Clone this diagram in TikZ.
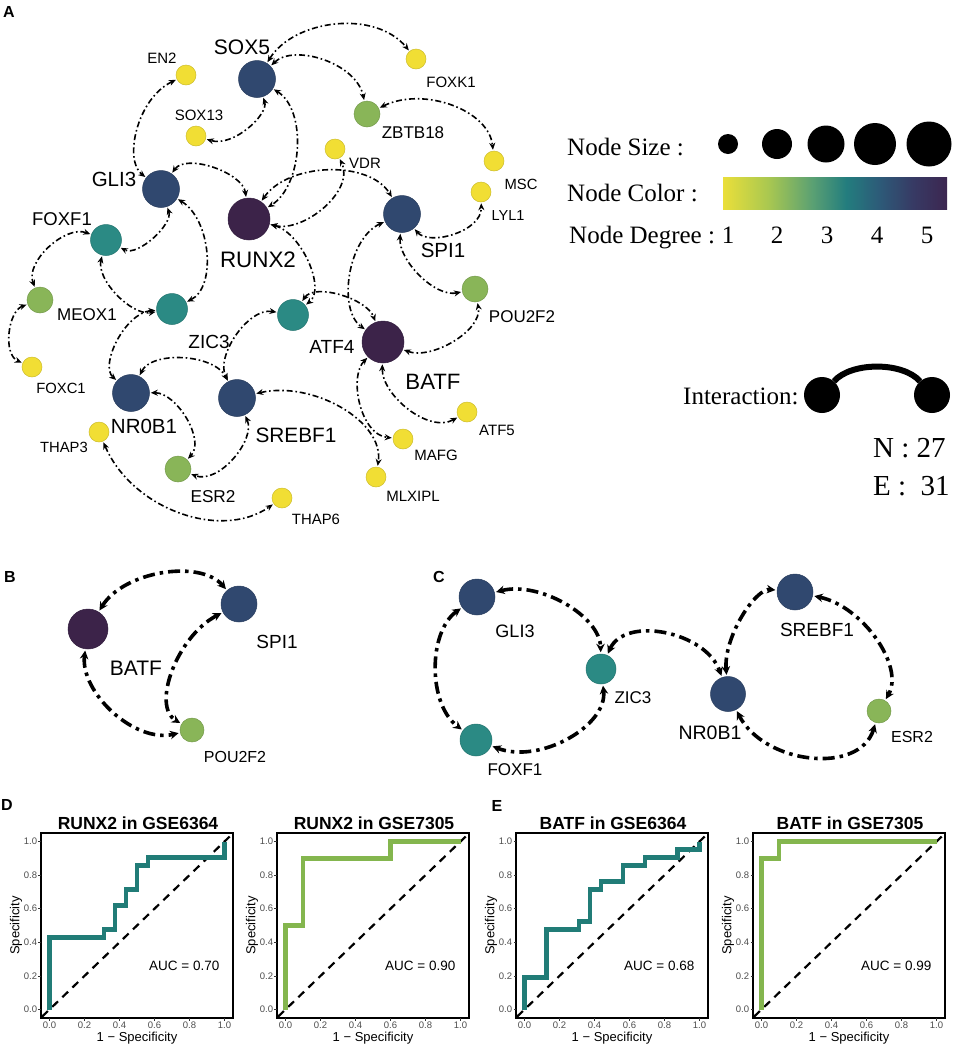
\documentclass[tikz,border=0pt]{standalone}
\usepackage{fontspec}
\setmainfont{Liberation Serif}
\newfontfamily\arial{Liberation Sans}
\usetikzlibrary{arrows.meta,calc}

\definecolor{cY}{RGB}{241,222,52}
\definecolor{cG}{RGB}{137,181,88}
\definecolor{cT}{RGB}{43,138,132}
\definecolor{cB}{RGB}{48,72,111}
\definecolor{cP}{RGB}{60,35,73}
\definecolor{rocT}{RGB}{33,124,119}
\definecolor{rocG}{RGB}{132,182,78}
\definecolor{tickgrey}{RGB}{77,77,77}
\definecolor{v0}{RGB}{234,223,58}
\definecolor{v1}{RGB}{170,200,80}
\definecolor{v2}{RGB}{90,160,115}
\definecolor{v3}{RGB}{35,125,126}
\definecolor{v4}{RGB}{45,90,120}
\definecolor{v5}{RGB}{55,58,100}
\definecolor{v6}{RGB}{60,38,80}
\pgfdeclarehorizontalshading{viridisbar}{100bp}{color(0bp)=(v0); color(25bp)=(v0); color(35bp)=(v1); color(45bp)=(v2); color(52.5bp)=(v3); color(60bp)=(v4); color(67.5bp)=(v5); color(75bp)=(v6); color(100bp)=(v6)}

\tikzset{
  nd/.style={circle,inner sep=0pt,minimum size=#1,line width=0.5pt},
  dY/.style={nd=20pt,fill=cY,draw=cY!85!black},
  dG/.style={nd=26pt,fill=cG,draw=cG!85!black},
  dT/.style={nd=31pt,fill=cT,draw=cT!85!black},
  dB/.style={nd=37pt,fill=cB,draw=cB!85!black},
  dP/.style={nd=42pt,fill=cP,draw=cP!85!black},
  lab/.style={font=\arial\fontsize{#1}{#1}\selectfont,inner sep=0pt},
  leg/.style={font=\fontsize{#1}{#1}\selectfont,inner sep=0pt},
  panlet/.style={font=\arial\bfseries\fontsize{16}{16}\selectfont,inner sep=0pt},
  blackdot/.style={circle,fill=black,inner sep=0pt,minimum size=#1},
  eA/.style={line width=1.6pt, dash pattern=on 6pt off 2.8pt on 1.6pt off 2.8pt,
     >={Stealth[length=7pt,width=6pt]}, <->, shorten <=1pt, shorten >=1pt},
  eB/.style={line width=3.6pt, dash pattern=on 12pt off 5pt on 3.5pt off 5pt,
     >={Stealth[length=8.5pt,width=8.5pt]}, <->, shorten <=1.5pt, shorten >=1.5pt},
  eI/.style={line width=6pt},
  roc/.style={line width=4.5pt, line join=miter, line cap=butt},
  diag/.style={line width=2.2pt, dash pattern=on 8pt off 6pt},
  tickm/.style={line width=0.8pt, draw=black!80},
  ticklab/.style={font=\arial\fontsize{9.5}{9.5}\selectfont, text=tickgrey, inner sep=1pt},
  roctitle/.style={font=\arial\bfseries\fontsize{17.5}{17.5}\selectfont,inner sep=0pt},
  axlab/.style={font=\arial\fontsize{13}{13}\selectfont,inner sep=0pt},
  auclab/.style={font=\arial\fontsize{13.5}{13.5}\selectfont,inner sep=0pt}
}

% arc from node #2 to node #3 passing near point #4, drawn with style #1
\newcommand{\arcX}[4]{%
 \draw[#1] let \p1=(#2), \p2=(#3), \p3=(#4),
   \n1={veclen(\x3-0.5*\x1-0.5*\x2,\y3-0.5*\y1-0.5*\y2)/(0.5*veclen(\x2-\x1,\y2-\y1))},
   \n2={(1-\n1*\n1)/3},
   \p5=({\x1+\n2*(\x2-\x1)+1.3333*(\x3-0.5*\x1-0.5*\x2)},{\y1+\n2*(\y2-\y1)+1.3333*(\y3-0.5*\y1-0.5*\y2)}),
   \p6=({\x2-\n2*(\x2-\x1)+1.3333*(\x3-0.5*\x1-0.5*\x2)},{\y2-\n2*(\y2-\y1)+1.3333*(\y3-0.5*\y1-0.5*\y2)})
 in (#2) .. controls (\p5) and (\p6) .. (#3);}
\newcommand{\arcA}[3]{\arcX{eA}{#1}{#2}{#3}}
\newcommand{\arcB}[3]{\arcX{eB}{#1}{#2}{#3}}

\newcommand{\rocpanel}[6]{%
 \begin{scope}[shift={(#1,1018)}]
  \node[roctitle] (#6t) at (97,-195) {#2};
  \node[axlab] (#6xl) at (96,20) {1 − Specificity};
  \node[axlab,rotate=90] (#6yl) at (-25,-92.5) {Specificity};
  \begin{scope}[shift={(8.5,-8.5)},x=175pt,y=168pt]
   \begin{scope}
    \clip (-0.0486,-0.0506) rectangle (1.0486,1.0506);
    \draw[diag] (-0.1,-0.1) -- (1.1,1.1);
   \end{scope}
   \draw[roc,draw=#3] #4;
   \draw[line width=1.2pt] (-0.0486,-0.0506) rectangle (1.0486,1.0506);
   \foreach \t [count=\k] in {0.0,0.2,0.4,0.6,0.8,1.0}{
     \draw[tickm] (\t,-0.0506) -- ++(0,-2.5pt) node[ticklab,anchor=north] (#6x\k) {\t};
     \draw[tickm] (-0.0486,\t) -- ++(-2.5pt,0) node[ticklab,anchor=east] (#6y\k) {\t};
   }
   \node[auclab] (#6auc) at (0.77,0.26) {#5};
  \end{scope}
 \end{scope}}

\begin{document}
\begin{tikzpicture}[x=1pt,y=-1pt]
\useasboundingbox (0,0) rectangle (957,1050);

% panel letters
\node[panlet] (letA) at (9,12) {A};
\node[panlet] (letB) at (10,577) {B};
\node[panlet] (letC) at (439,577) {C};
\node[panlet] (letD) at (7,805) {D};
\node[panlet] (letE) at (497,806) {E};

% ===== Panel A nodes =====
\node[dB] (SOX5) at (257,79) {};
\node[dY] (EN2) at (186,75) {};
\node[dY] (SOX13) at (196,136) {};
\node[dY] (FOXK1) at (416,59) {};
\node[dG] (ZBTB18) at (367,114) {};
\node[dY] (VDR) at (335,149) {};
\node[dB] (GLI3) at (161,189) {};
\node[dP] (RUNX2) at (249,219) {};
\node[dB] (SPI1) at (402,214) {};
\node[dY] (MSC) at (494,161) {};
\node[dY] (LYL1) at (481,192) {};
\node[dT] (FOXF1) at (106,240) {};
\node[dG] (MEOX1) at (40,300) {};
\node[dT] (ZIC3) at (172,309) {};
\node[dT] (ATF4) at (293,315) {};
\node[dP] (BATF) at (383,342) {};
\node[dG] (POU2F2) at (475,289) {};
\node[dY] (FOXC1) at (32,367) {};
\node[dB] (NR0B1) at (131,393) {};
\node[dB] (SREBF1) at (237,398) {};
\node[dY] (THAP3) at (99,432) {};
\node[dG] (ESR2) at (178,469) {};
\node[dY] (THAP6) at (282,498) {};
\node[dY] (MLXIPL) at (376,477) {};
\node[dY] (MAFG) at (403,439) {};
\node[dY] (ATF5) at (467,412) {};

% labels A
\node[lab=21] (tSOX5) at (242,47) {SOX5};
\node[lab=15] (tEN2) at (162,58) {EN2};
\node[lab=15] (tSOX13) at (199,115) {SOX13};
\node[lab=15] (tFOXK1) at (451,82) {FOXK1};
\node[lab=17] (tZBTB18) at (413,133) {ZBTB18};
\node[lab=15] (tVDR) at (365,163) {VDR};
\node[lab=20.5] (tGLI3) at (114,179) {GLI3};
\node[lab=22.4] (tRUNX2) at (258,260) {RUNX2};
\node[lab=20.5] (tSPI1) at (443,250) {SPI1};
\node[lab=14.8] (tMSC) at (521,184) {MSC};
\node[lab=14.5] (tLYL1) at (508,216) {LYL1};
\node[lab=18.5] (tFOXF1) at (62,219) {FOXF1};
\node[lab=17] (tMEOX1) at (87,315) {MEOX1};
\node[lab=19] (tZIC3) at (209,342) {ZIC3};
\node[lab=19] (tATF4) at (332,347) {ATF4};
\node[lab=22.2] (tBATF) at (433,382) {BATF};
\node[lab=17] (tPOU2F2) at (522,317) {POU2F2};
\node[lab=14.8] (tFOXC1) at (61,388) {FOXC1};
\node[lab=20.5] (tNR0B1) at (144,426) {NR0B1};
\node[lab=20.8] (tSREBF1) at (296,435) {SREBF1};
\node[lab=14.8] (tTHAP3) at (64,447) {THAP3};
\node[lab=17.2] (tESR2) at (213,497) {ESR2};
\node[lab=14.9] (tTHAP6) at (316,519) {THAP6};
\node[lab=15] (tMLXIPL) at (413,496) {MLXIPL};
\node[lab=15] (tMAFG) at (436,455) {MAFG};
\node[lab=15] (tATF5) at (497,430) {ATF5};

% edges A
\arcA{SOX5}{FOXK1}{335,28}
\arcA{SOX5}{ZBTB18}{322,64}
\arcA{ZBTB18}{MSC}{450,108}
\arcA{SOX5}{SOX13}{245,125}
\arcA{SOX5}{RUNX2}{292,148}
\arcA{EN2}{GLI3}{141,130}
\arcA{GLI3}{RUNX2}{212,173}
\arcA{RUNX2}{VDR}{320,205}
\arcA{RUNX2}{SPI1}{328,175}
\arcA{SPI1}{LYL1}{452,230}
\arcA{SPI1}{POU2F2}{422,272}
\arcA{SPI1}{BATF}{355,275}
\arcA{RUNX2}{ATF4}{303,262}
\arcA{ATF4}{BATF}{340,300}
\arcA{GLI3}{FOXF1}{150,234}
\arcA{GLI3}{ZIC3}{202,252}
\arcA{FOXF1}{ZIC3}{120,292}
\arcA{FOXF1}{MEOX1}{52,250}
\arcA{MEOX1}{FOXC1}{13,333}
\arcA{ZIC3}{NR0B1}{122,342}
\arcA{NR0B1}{SREBF1}{183,363}
\arcA{ATF4}{SREBF1}{240,338}
\arcA{NR0B1}{ESR2}{182,420}
\arcA{SREBF1}{ESR2}{230,455}
\arcA{SREBF1}{MLXIPL}{338,410}
\arcA{THAP3}{THAP6}{180,510}
\arcA{BATF}{POU2F2}{450,338}
\arcA{BATF}{MAFG}{364,402}
\arcA{BATF}{ATF5}{410,405}

% ===== Legend =====
\node[leg=25,anchor=base west] (lgSize) at (567,155) {Node Size :};
\node[leg=25,anchor=base west] (lgColor) at (567,201) {Node Color :};
\node[leg=25,anchor=base west] (lgDeg) at (569,243) {Node Degree :};
\node[blackdot=20pt] (s1) at (728,144) {};
\node[blackdot=30pt] (s2) at (777,144) {};
\node[blackdot=37pt] (s3) at (826,144) {};
\node[blackdot=42pt] (s4) at (875,144) {};
\node[blackdot=45pt] (s5) at (929,144) {};
\node[shade,shading=viridisbar,minimum width=224pt,minimum height=32pt,inner sep=0pt] (cbar) at (835,193) {};
\node[leg=25,anchor=base] (d1) at (728,243) {1};
\node[leg=25,anchor=base] (d2) at (777,243) {2};
\node[leg=25,anchor=base] (d3) at (827,243) {3};
\node[leg=25,anchor=base] (d4) at (877,243) {4};
\node[leg=25,anchor=base] (d5) at (927,243) {5};
\node[leg=25,anchor=base west] (lgInt) at (683,404) {Interaction:};
\node[blackdot=36pt] (i1) at (822,395) {};
\node[blackdot=36pt] (i2) at (932,395) {};
\arcX{eI}{i1}{i2}{877,370}
\node[leg=29,anchor=base west] (lgN) at (873,457) {N : 27};
\node[leg=29,anchor=base west] (lgE) at (873,495) {E :\ \ 31};

% ===== Panel B =====
\node[dP,minimum size=40pt] (bBATF) at (88,629) {};
\node[dB,minimum size=36pt] (bSPI1) at (239,604) {};
\node[dG,minimum size=24pt] (bPOU) at (192,730) {};
\node[lab=19] (tbSPI1) at (277,642) {SPI1};
\node[lab=21] (tbBATF) at (136,668) {BATF};
\node[lab=16] (tbPOU) at (235,757) {POU2F2};
\arcB{bBATF}{bSPI1}{162,578}
\arcB{bBATF}{bPOU}{115,708}
\arcB{bSPI1}{bPOU}{177,670}

% ===== Panel C =====
\node[dB,minimum size=36pt] (cGLI3) at (477,597) {};
\node[dT,minimum size=32pt] (cFOXF1) at (476,740) {};
\node[dT,minimum size=30pt] (cZIC3) at (601,669) {};
\node[dB,minimum size=35pt] (cNR0B1) at (728,694) {};
\node[dG,minimum size=24pt] (cESR2) at (879,711) {};
\node[dB,minimum size=36pt] (cSREBF1) at (795,592) {};
\node[lab=18] (tcGLI3) at (515,631) {GLI3};
\node[lab=17] (tcZIC3) at (633,698) {ZIC3};
\node[lab=19.5] (tcNR0B1) at (710,733) {NR0B1};
\node[lab=16] (tcESR2) at (912,737) {ESR2};
\node[lab=17] (tcFOXF1) at (515,770) {FOXF1};
\node[lab=19] (tcSREBF1) at (817,630) {SREBF1};
\arcB{cGLI3}{cFOXF1}{440,668}
\arcB{cGLI3}{cZIC3}{562,607}
\arcB{cZIC3}{cFOXF1}{565,735}
\arcB{cZIC3}{cNR0B1}{665,638}
\arcB{cNR0B1}{cSREBF1}{745,620}
\arcB{cSREBF1}{cESR2}{872,640}
\arcB{cESR2}{cNR0B1}{810,753}

% ===== ROC panels =====
\rocpanel{41}{RUNX2 in GSE6364}{rocT}{(0,0) -- (0,0.4286) -- (0.3125,0.4286) -- (0.3125,0.4762) -- (0.375,0.4762) -- (0.375,0.619) -- (0.4375,0.619) -- (0.4375,0.7143) -- (0.5,0.7143) -- (0.5,0.8571) -- (0.5625,0.8571) -- (0.5625,0.9048) -- (1,0.9048) -- (1,1)}{AUC = 0.70}{pa}
\rocpanel{277}{RUNX2 in GSE7305}{rocG}{(0,0) -- (0,0.5) -- (0.1,0.5) -- (0.1,0.9) -- (0.6,0.9) -- (0.6,1) -- (1,1)}{AUC = 0.90}{pb}
\rocpanel{516}{BATF in GSE6364}{rocT}{(0,0) -- (0,0.1905) -- (0.125,0.1905) -- (0.125,0.4762) -- (0.3125,0.4762) -- (0.3125,0.5238) -- (0.375,0.5238) -- (0.375,0.7143) -- (0.4375,0.7143) -- (0.4375,0.7619) -- (0.5625,0.7619) -- (0.5625,0.8571) -- (0.6875,0.8571) -- (0.6875,0.9048) -- (0.875,0.9048) -- (0.875,0.9524) -- (1,0.9524) -- (1,1)}{AUC = 0.68}{pc}
\rocpanel{753}{BATF in GSE7305}{rocG}{(0,0) -- (0,0.9) -- (0.1,0.9) -- (0.1,1) -- (1,1)}{AUC = 0.99}{pd}

\end{tikzpicture}
\end{document}
